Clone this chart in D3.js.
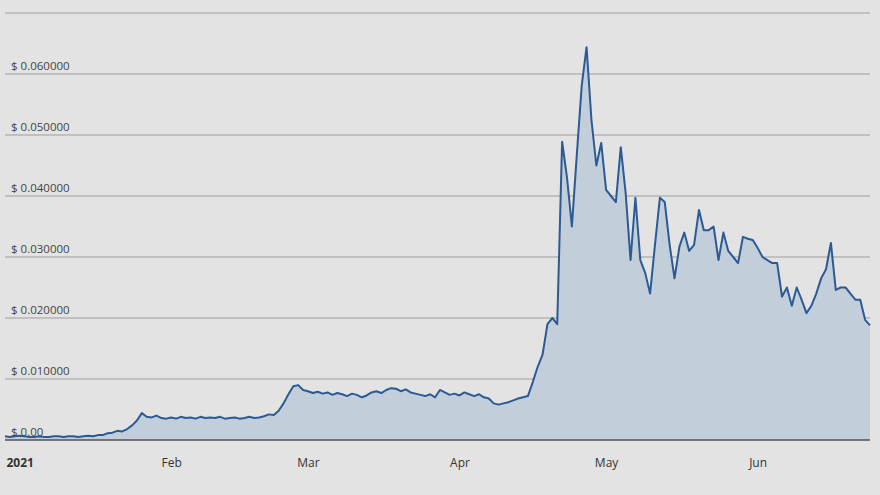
<!DOCTYPE html>
<html>
<head>
<meta charset="utf-8">
<script src="https://cdn.jsdelivr.net/npm/d3@7"></script>
<style>
  body { margin: 0; background: #e3e3e3; }
  text { font-family: "Open Sans", sans-serif; }
</style>
</head>
<body>
<svg id="plot" width="880" height="495"></svg>
<script>
// Daily prices starting 2020-12-29
const startDate = "2020-12-29";
const prices = [
  0.0006, 0.0005, 0.0006, 0.0007, 0.0006, 0.0005, 0.0005, 0.0006, 0.0005, 0.0005,
  0.0006, 0.0006, 0.0005, 0.0006, 0.0006, 0.0005, 0.0006, 0.0007, 0.0006, 0.0008,
  0.0008, 0.0011, 0.0012, 0.0015, 0.0014, 0.0018, 0.0024, 0.0032, 0.0044, 0.0038,
  0.0037, 0.0040, 0.0036, 0.0035, 0.0037, 0.0035, 0.0038, 0.0036, 0.0037, 0.0035,
  0.0038, 0.0036, 0.0037, 0.0036, 0.0038, 0.0035, 0.0036, 0.0037, 0.0035, 0.0036,
  0.0038, 0.0036, 0.0037, 0.0039, 0.0042, 0.0041, 0.0048, 0.0060, 0.0075, 0.0088,
  0.0090, 0.0082, 0.0080, 0.0077, 0.0079, 0.0076, 0.0078, 0.0074, 0.0077, 0.0075,
  0.0072, 0.0076, 0.0074, 0.0070, 0.0073, 0.0078, 0.0080, 0.0077, 0.0082, 0.0085,
  0.0084, 0.0080, 0.0083, 0.0078, 0.0076, 0.0074, 0.0072, 0.0075, 0.0070, 0.0082,
  0.0078, 0.0074, 0.0076, 0.0073, 0.0078, 0.0075, 0.0072, 0.0075, 0.0070, 0.0068,
  0.0060, 0.0058, 0.0060, 0.0062, 0.0065, 0.0068, 0.0070, 0.0072, 0.0095, 0.0120,
  0.0140, 0.0190, 0.0200, 0.0190, 0.0489, 0.0430, 0.0350, 0.0467, 0.0580, 0.0644,
  0.0525, 0.0450, 0.0487, 0.0410, 0.0400, 0.0390, 0.0480, 0.0405, 0.0295, 0.0397,
  0.0295, 0.0274, 0.0240, 0.0320, 0.0397, 0.0390, 0.0320, 0.0265, 0.0317, 0.0340,
  0.0310, 0.0320, 0.0377, 0.0344, 0.0344, 0.0350, 0.0295, 0.0340, 0.0310, 0.0300,
  0.0290, 0.0333, 0.0330, 0.0328, 0.0315, 0.0300, 0.0295, 0.0290, 0.0290, 0.0235,
  0.0250, 0.0220, 0.0250, 0.0230, 0.0208, 0.0220, 0.0240, 0.0265, 0.0280, 0.0323,
  0.0246, 0.0250, 0.0250, 0.0240, 0.0230, 0.0230, 0.0197, 0.0188
];
const yTicks = [0, 0.01, 0.02, 0.03, 0.04, 0.05, 0.06, 0.07];
const monthTicks = ["2021-01-01", "2021-02-01", "2021-03-01", "2021-04-01", "2021-05-01", "2021-06-01"];

const parse = d3.timeParse("%Y-%m-%d");
const start = parse(startDate);
const data = prices.map((v, i) => ({ date: d3.timeDay.offset(start, i), value: v }));

const svg = d3.select("#plot");

const x = d3.scaleTime()
    .domain([start, data[data.length - 1].date])
    .range([5, 870]);

const y = d3.scaleLinear()
    .domain([0, 0.07])
    .range([440, 13]);

// Gridlines
svg.append("g")
    .selectAll("line")
    .data(yTicks.slice(1))
    .enter().append("line")
    .attr("x1", 5).attr("x2", 870)
    .attr("y1", d => y(d)).attr("y2", d => y(d))
    .attr("stroke", "#b5b5b5")
    .attr("stroke-width", 1.5);

// Area and line
svg.append("path")
    .datum(data)
    .attr("fill", "#c3cedb")
    .attr("d", d3.area().x(d => x(d.date)).y0(y(0)).y1(d => y(d.value)));

svg.append("path")
    .datum(data)
    .attr("fill", "none")
    .attr("stroke", "#2b5a94")
    .attr("stroke-width", 2)
    .attr("stroke-linejoin", "round")
    .attr("d", d3.line().x(d => x(d.date)).y(d => y(d.value)));

// Baseline
svg.append("line")
    .attr("x1", 5).attr("x2", 870)
    .attr("y1", y(0)).attr("y2", y(0))
    .attr("stroke", "#555")
    .attr("stroke-width", 1.5);

// Y labels
svg.append("g")
    .selectAll("text")
    .data(yTicks.slice(0, 7))
    .enter().append("text")
    .attr("x", 11)
    .attr("y", d => y(d) - 4)
    .attr("font-size", 11.5)
    .attr("fill", "#444")
    .text(d => d === 0 ? "$ 0.00" : "$ " + d3.format(".6f")(d));

// X labels
const xAxis = svg.append("g")
    .attr("transform", `translate(0,${y(0)})`)
    .call(d3.axisBottom(x)
        .tickValues(monthTicks.map(parse))
        .tickSize(0)
        .tickPadding(18)
        .tickFormat(d => d.getMonth() === 0 ? "2021" : d3.timeFormat("%b")(d)));
xAxis.select(".domain").remove();
xAxis.selectAll("text")
    .attr("font-size", 12)
    .attr("fill", "#333")
    .attr("font-weight", d => d.getMonth() === 0 ? "bold" : "normal")
    .style("font-family", "'Open Sans', sans-serif");
</script>
</body>
</html>
